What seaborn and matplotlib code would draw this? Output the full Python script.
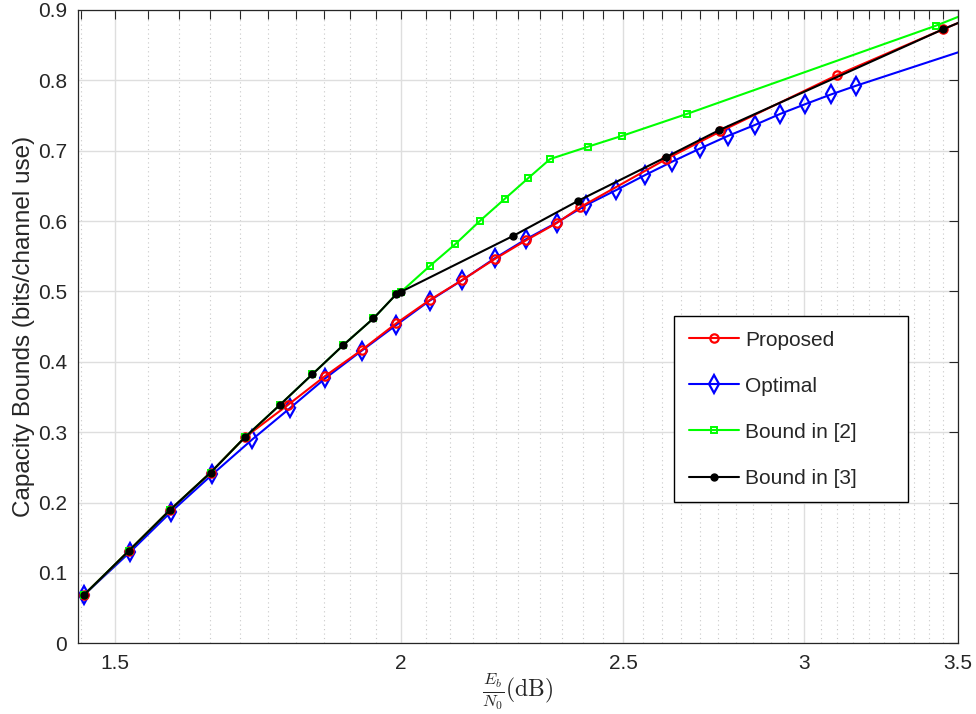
import numpy as np
import pandas as pd
import matplotlib
matplotlib.use("Agg")
import matplotlib.pyplot as plt
import matplotlib.ticker as mticker
import seaborn as sns

# Eb/N0 (dB) and capacity bounds (bits/channel use)
proposed_x = [1.4535, 1.521, 1.585, 1.651, 1.709, 1.785, 1.853, 1.922, 1.99, 2.058,
              2.127, 2.197, 2.267, 2.338, 2.395, 2.61, 2.757, 3.1, 3.448, 3.6]
proposed_y = [0.0686, 0.1316, 0.1894, 0.2425, 0.2927, 0.339, 0.380, 0.4168, 0.4547, 0.4878,
              0.5165, 0.546, 0.5725, 0.597, 0.620, 0.688, 0.7275, 0.8075, 0.8725, 0.898]

optimal_x = [1.4535, 1.523, 1.587, 1.654, 1.722, 1.788, 1.853, 1.922, 1.99, 2.058,
             2.127, 2.197, 2.267, 2.338, 2.409, 2.483, 2.556, 2.626, 2.702, 2.777,
             2.854, 2.927, 3.003, 3.082, 3.160, 3.6]
optimal_y = [0.0686, 0.130, 0.187, 0.240, 0.2899, 0.334, 0.3766, 0.4158, 0.4523, 0.4869,
             0.5163, 0.5471, 0.5741, 0.5977, 0.6229, 0.6442, 0.6655, 0.6844, 0.7034, 0.7209,
             0.7366, 0.7522, 0.7663, 0.7801, 0.7924, 0.8527]

bound2_x = [1.4535, 1.521, 1.585, 1.651, 1.709, 1.770, 1.829, 1.887, 1.945, 1.99, 2.0,
            2.058, 2.112, 2.165, 2.219, 2.272, 2.323, 2.413, 2.498, 2.665, 3.424, 3.6]
bound2_y = [0.0686, 0.1316, 0.1894, 0.2425, 0.2927, 0.3386, 0.3823, 0.4239, 0.4618, 0.496, 0.4997,
            0.536, 0.5674, 0.6005, 0.6314, 0.6608, 0.6882, 0.7057, 0.7213, 0.7522, 0.8777, 0.9058]

bound3_x = [1.4535, 1.521, 1.585, 1.651, 1.709, 1.770, 1.829, 1.887, 1.945, 1.99, 2.0,
            2.239, 2.390, 2.609, 2.754, 3.448, 3.6]
bound3_y = [0.0686, 0.1316, 0.1894, 0.2425, 0.2927, 0.3386, 0.3823, 0.4239, 0.4618, 0.496, 0.4997,
            0.5792, 0.629, 0.6906, 0.7294, 0.8725, 0.898]

x_major = [1.5, 2, 2.5, 3, 3.5]
x_labels = ['1.5', '2', '2.5', '3', '3.5']
y_major = [0, 0.1, 0.2, 0.3, 0.4, 0.5, 0.6, 0.7, 0.8, 0.9]
y_labels = ['0', '0.1', '0.2', '0.3', '0.4', '0.5', '0.6', '0.7', '0.8', '0.9']

sns.set_style('white')
plt.rcParams['font.family'] = ['Liberation Sans', 'DejaVu Sans']
plt.rcParams['mathtext.fontset'] = 'cm'

axis_grey = '#262626'

fig = plt.figure(figsize=(9.76, 7.14), dpi=100)
ax = fig.add_axes([0.0799, 0.099, 0.9014, 0.887])
ax.set_xscale('log')

series = [
    ('Optimal', optimal_x, optimal_y, dict(color='#0000ff', marker='d', markersize=9,
                                           markerfacecolor='none', markeredgecolor='#0000ff',
                                           markeredgewidth=1.6)),
    ('Proposed', proposed_x, proposed_y, dict(color='#ff0000', marker='o', markersize=6,
                                              markerfacecolor='none', markeredgecolor='#ff0000',
                                              markeredgewidth=1.6)),
    ('Bound in [2]', bound2_x, bound2_y, dict(color='#00ff00', marker='s', markersize=4,
                                              markerfacecolor='none', markeredgecolor='#00ff00',
                                              markeredgewidth=1.4)),
    ('Bound in [3]', bound3_x, bound3_y, dict(color='#000000', marker='o', markersize=5,
                                              markerfacecolor='#000000', markeredgecolor='#000000',
                                              markeredgewidth=1.0)),
]

for name, xs, ys, style in series:
    df = pd.DataFrame({'EbN0': xs, 'Capacity': ys})
    sns.lineplot(data=df, x='EbN0', y='Capacity', ax=ax, sort=False,
                 linewidth=1.5, label=name, **style)

ax.set_xlim(1.445, 3.5)
ax.set_ylim(0, 0.9)

ax.xaxis.set_major_locator(mticker.FixedLocator(x_major))
ax.xaxis.set_major_formatter(mticker.FixedFormatter(x_labels))
ax.xaxis.set_minor_locator(mticker.FixedLocator(np.round(np.arange(1.45, 3.5, 0.05), 2)))
ax.xaxis.set_minor_formatter(mticker.NullFormatter())
ax.yaxis.set_major_locator(mticker.FixedLocator(y_major))
ax.yaxis.set_major_formatter(mticker.FixedFormatter(y_labels))

ax.grid(which='major', color='#dedede', linewidth=1.0, linestyle='-')
ax.grid(which='minor', axis='x', color='#c8c8c8', linewidth=0.8, linestyle=(0, (1, 3)))
ax.set_axisbelow(True)

ax.tick_params(which='both', direction='in', top=True, right=True,
               colors=axis_grey, labelcolor=axis_grey, width=0.8)
ax.tick_params(which='major', length=6.5, labelsize=15, pad=8)
ax.tick_params(which='minor', length=6.5)
for sp in ax.spines.values():
    sp.set_color(axis_grey)
    sp.set_linewidth(0.9)

ax.set_xlabel(r'$\frac{E_b}{N_0}(\mathrm{dB})$', fontsize=17, color=axis_grey)
ax.xaxis.set_label_coords(0.5, -0.045)
ax.set_ylabel('Capacity Bounds (bits/channel use)', fontsize=17.5, color=axis_grey, labelpad=2)

handles, labels = ax.get_legend_handles_labels()
order = [labels.index(n) for n in ['Proposed', 'Optimal', 'Bound in [2]', 'Bound in [3]']]
leg = ax.legend([handles[i] for i in order], [labels[i] for i in order],
                loc='upper left', bbox_to_anchor=(0.6775, 0.2247, 0.2657, 0.2921),
                mode='expand', borderaxespad=0, fontsize=15, frameon=True, fancybox=False,
                edgecolor='#000000', framealpha=1, handlelength=2.4, handletextpad=0.3,
                labelspacing=1.3, borderpad=0.7, numpoints=1)
leg.get_frame().set_linewidth(1.0)

fig.savefig('out.png', dpi=100)
plt.close(fig)
